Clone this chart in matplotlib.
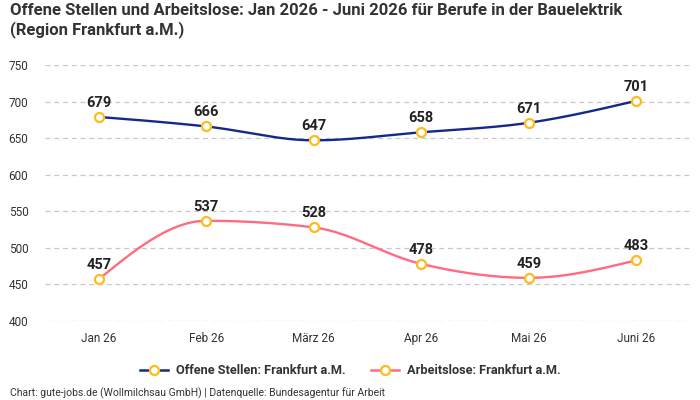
import numpy as np
import matplotlib.pyplot as plt
from matplotlib.lines import Line2D

plt.rcParams['font.family'] = ['Roboto', 'DejaVu Sans']

months = ['Jan 26', 'Feb 26', 'März 26', 'Apr 26', 'Mai 26', 'Juni 26']
offene = [679, 666, 647, 658, 671, 701]
arbeitslose = [457, 537, 528, 478, 459, 483]

blue = '#16298a'
pink = '#ff6b81'
yellow = '#fbbc1c'


def monotone(x, y, n=30):
    # monotone cubic curve like d3.curveMonotoneX
    x = np.asarray(x, float)
    y = np.asarray(y, float)
    h = np.diff(x)
    s = np.diff(y) / h
    t = np.zeros(len(x))
    for i in range(1, len(x) - 1):
        p = (s[i - 1] * h[i] + s[i] * h[i - 1]) / (h[i - 1] + h[i])
        t[i] = (np.sign(s[i - 1]) + np.sign(s[i])) * min(abs(s[i - 1]), abs(s[i]), 0.5 * abs(p))
    t[0] = (3 * s[0] - t[1]) / 2
    t[-1] = (3 * s[-1] - t[-2]) / 2
    xs, ys = [], []
    for i in range(len(x) - 1):
        u = np.linspace(0, 1, n)
        h00 = 2 * u**3 - 3 * u**2 + 1
        h10 = u**3 - 2 * u**2 + u
        h01 = -2 * u**3 + 3 * u**2
        h11 = u**3 - u**2
        xs.extend(x[i] + u * h[i])
        ys.extend(h00 * y[i] + h10 * h[i] * t[i] + h01 * y[i + 1] + h11 * h[i] * t[i + 1])
    return np.array(xs), np.array(ys)


fig = plt.figure(figsize=(7, 4), dpi=100)
ax = fig.add_axes([45 / 700, 1 - 321 / 400, 645 / 700, 256 / 400])

xpos = np.arange(len(months))
for vals, col in [(offene, blue), (arbeitslose, pink)]:
    cx, cy = monotone(xpos, vals)
    ax.plot(cx, cy, color=col, lw=1.7, zorder=2)
    ax.plot(xpos, vals, ls='none', marker='o', ms=6.5, mfc='white', mec=yellow, mew=1.6, zorder=3)
    for xi, v in zip(xpos, vals):
        ax.annotate(str(v), (xi, v), xytext=(0, 5), textcoords='offset points',
                    ha='center', va='bottom', fontsize=10.5, fontweight='bold', color='#222222')

ax.set_xlim(-0.5, 5.5)
ax.set_ylim(400, 750)
ax.set_yticks(range(400, 751, 50))
ax.set_xticks(xpos)
ax.set_xticklabels(months)
ax.grid(axis='y', ls=(0, (4, 3)), color='#c8c8c8', lw=0.9)
ax.set_axisbelow(True)
for sp in ax.spines.values():
    sp.set_visible(False)
ax.tick_params(length=0, labelsize=8.5, colors='#333333')
ax.tick_params(axis='y', pad=12)
ax.tick_params(axis='x', pad=8)

fig.text(10 / 700, 1 - 3 / 400,
         'Offene Stellen und Arbeitslose: Jan 2026 - Juni 2026 für Berufe in der Bauelektrik\n(Region Frankfurt a.M.)',
         ha='left', va='top', fontsize=12, fontweight='bold', color='#333333', linespacing=1.2)

handles = [Line2D([], [], color=blue, lw=1.8, marker='o', ms=6.5, mfc='white', mec=yellow, mew=1.6),
           Line2D([], [], color=pink, lw=1.8, marker='o', ms=6.5, mfc='white', mec=yellow, mew=1.6)]
leg = fig.legend(handles, ['Offene Stellen: Frankfurt a.M.', 'Arbeitslose: Frankfurt a.M.'],
                 loc='center', bbox_to_anchor=(0.5, 1 - 371 / 400), ncol=2, frameon=False,
                 prop={'size': 9.2, 'weight': 'bold'}, handlelength=2.2, handletextpad=0.6,
                 columnspacing=2.0)
for t in leg.get_texts():
    t.set_color('#333333')

fig.text(10 / 700, 1 - 393 / 400, 'Chart: gute-jobs.de (Wollmilchsau GmbH) | Datenquelle: Bundesagentur für Arbeit',
         ha='left', va='center', fontsize=7.5, color='#333333')

fig.savefig('out.png', dpi=100)
